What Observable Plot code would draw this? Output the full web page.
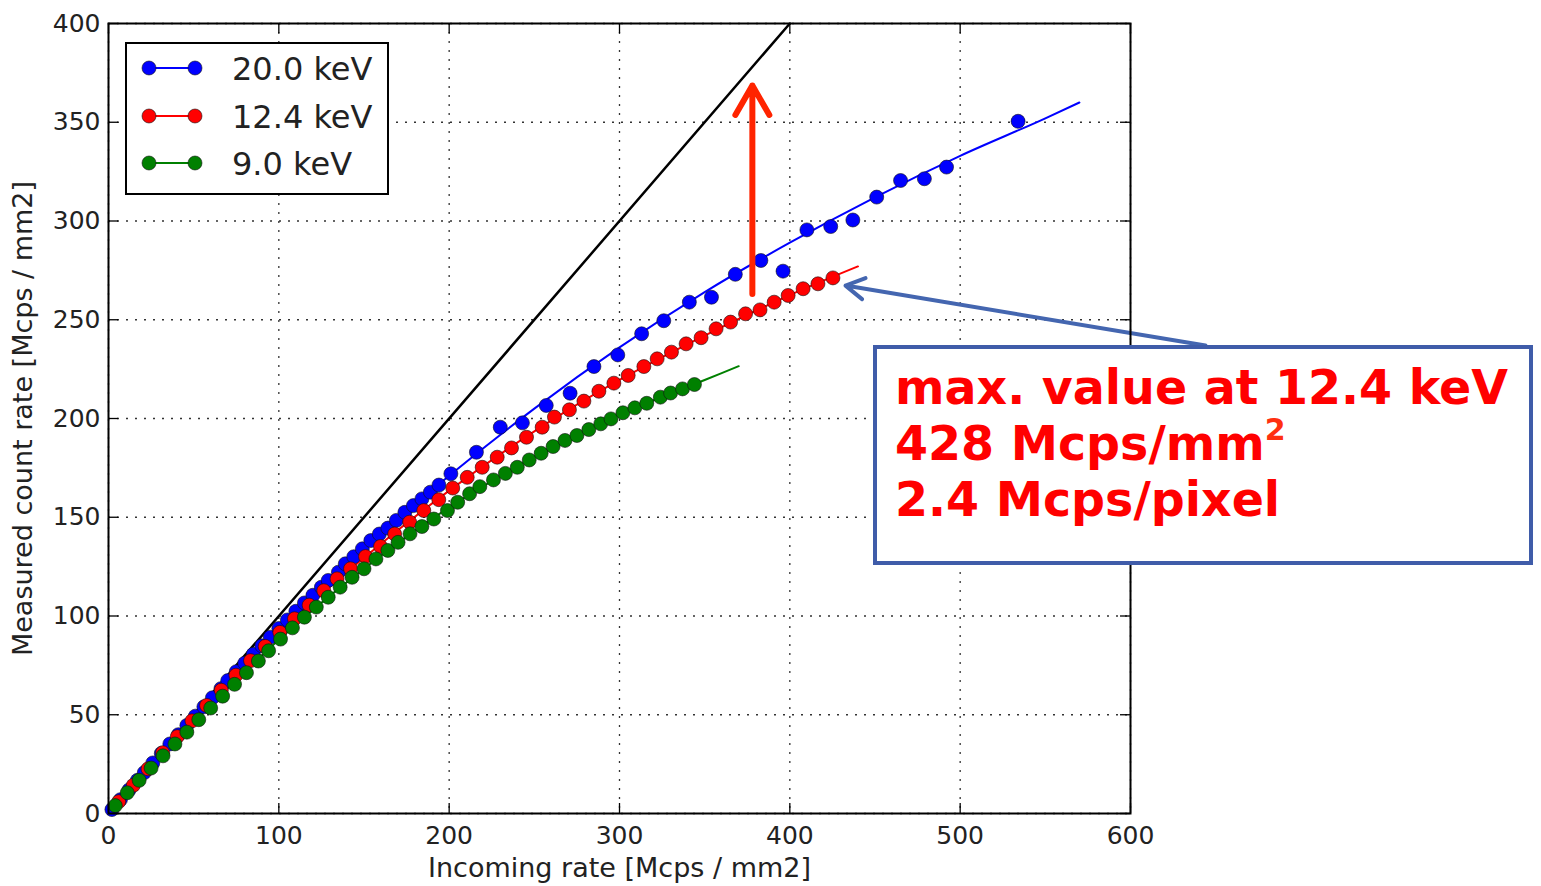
<!DOCTYPE html>
<html><head><meta charset="utf-8">
<script src="https://cdn.jsdelivr.net/npm/d3@7"></script>
<script src="https://cdn.jsdelivr.net/npm/@observablehq/plot@0.6"></script>
<style>
body{margin:0;background:#fff;}
#wrap{position:relative;width:1541px;height:886px;font-family:"DejaVu Sans",sans-serif;}
#legend{position:absolute;left:125px;top:42px;width:260px;height:149px;border:2px solid #000;background:#fff;}
#note{position:absolute;left:873px;top:345px;width:652px;height:212px;border:4px solid #3f5ca9;background:#fff;}
#note .txt{position:absolute;left:18px;top:11px;font-family:"DejaVu Sans",sans-serif;font-weight:bold;font-size:47.5px;line-height:56px;color:#ff0000;white-space:nowrap;}
#note sup{font-size:30px;color:#ff3010;position:relative;top:-3px;vertical-align:super;line-height:0;}
</style></head>
<body><div id="wrap"></div>
<script>
// ---- data ----
const energies = ["20.0 keV", "12.4 keV", "9.0 keV"];
const seriesColors = ["#0000ff", "#ff0000", "#008000"];

const blueIncoming = [2, 7, 12, 17, 21, 26, 31, 36, 41, 46, 51, 56, 61, 66, 70, 75, 80, 85, 90, 95,
  100, 105, 110, 115, 120, 125, 129, 135, 139, 144, 149, 154, 159, 164, 169, 174, 179, 184, 189, 194, 201,
  216, 230, 243, 257, 271, 285, 299, 313, 326, 341, 354, 368, 383, 396, 410, 424, 437, 451, 465, 479, 492, 534];
const blueMeasured = [2, 7, 11.9, 16.8, 20.7, 25.6, 30.4, 35.2, 39.9, 44.6, 49.3, 54, 58.6, 63.2, 67.3, 71.8, 76.1, 80.6, 84.9, 89.3,
  93.7, 98, 102.4, 106.6, 110.5, 114.6, 118, 122.2, 126.4, 130, 134, 138.2, 141.5, 144.5, 148.4, 152.5, 155.9, 159.3, 162.7, 166.3, 172,
  182.9, 195.6, 197.8, 206.6, 212.8, 226.3, 232.2, 242.9, 249.5, 258.9, 261.4, 273, 280, 274.6, 295.5, 297.2, 300.5, 312.1, 320.5, 321.4, 327.3, 350.5];

const redIncoming = [6, 14.6, 23.2, 31.8, 40.4, 49, 57.6, 66.2, 74.8, 83.4, 92, 100.6, 109.2, 117.8,
  126.4, 134.2, 142.1, 150.9, 159.7, 168, 176.8, 185.1, 193.9, 202.1, 210.6, 219.4, 228.2, 236.6, 245.4, 254.6,
  261.8, 270.6, 279.1, 287.9, 296.7, 305.1, 314.3, 322.1, 330.5, 339.1, 347.9, 356.7, 365.2, 374, 382.5, 390.8,
  399, 407.8, 416.5, 425.3];
const redMeasured = [6, 14.3, 22.6, 30.8, 38.9, 46.9, 54.7, 62.4, 70, 77.4, 84.6, 91.7, 98.6, 105.5,
  112.8, 118.8, 123.9, 130.1, 135.2, 141.5, 147.5, 153.4, 158.9, 164.8, 170.2, 175.3, 180.4, 185.1, 190.5, 195.6,
  200.7, 204.4, 208.8, 213.8, 217.9, 221.8, 226.3, 230.2, 233.6, 237.8, 240.9, 245.4, 248.8, 253, 255, 258.9,
  262.3, 265.7, 268.2, 271.2];

const greenIncoming = [4, 11, 18, 25, 32, 39, 46, 53, 60, 67, 74, 81, 88, 94, 101, 108, 115, 122, 129, 136,
  143, 150, 157, 164, 170, 177, 184, 191, 199, 205, 212, 218, 226, 233, 240, 247, 254, 261, 268, 275,
  282, 289, 295, 302, 309, 316, 324, 330, 337, 344];
const greenMeasured = [4, 10.5, 16.8, 23, 29.2, 35.2, 41.2, 47.5, 53.4, 59.4, 65.4, 71.3, 77.2, 82.4, 88.3, 94, 99.4, 104.5, 109.5, 114.6,
  119.6, 123.9, 128.9, 133.2, 137.3, 141.6, 145.3, 149.1, 153.4, 157.6, 161.9, 165.5, 168.9, 172.2, 175.3, 179, 182.4, 185.8, 188.9, 191.4,
  194.4, 197.3, 199.8, 202.9, 205.4, 207.7, 210.8, 212.9, 215, 217.2];

// fitted curves (as drawn)
const blueFitX = [0, 50, 100, 150, 200, 250, 300, 350, 400, 450, 500, 550, 570];
const blueFitY = [0, 48.5, 93.5, 134, 171, 205, 236, 264, 289, 312, 333, 352, 360];
const redFitX = [0, 50, 100, 150, 200, 250, 300, 350, 400, 440];
const redFitY = [0, 47.5, 91.3, 129.5, 163.5, 193.5, 219.5, 242, 262.5, 277];
const greenFitX = [0, 50, 100, 150, 200, 250, 300, 350, 370];
const greenFitY = [0, 46, 88, 124, 155, 180.5, 202, 219.5, 226.5];

// ideal response line
const idealX = [0, 400];
const idealY = [0, 400];

const xTicks = [0, 100, 200, 300, 400, 500, 600];
const yTicks = [0, 50, 100, 150, 200, 250, 300, 350, 400];

// annotation arrows (data coordinates)
const redArrow = {x1: 378, y1: 263, x2: 378, y2: 368.6};
const blueArrow = {x1: 644, y1: 237, x2: 432.7, y2: 267.3};

// ---- build tables ----
const measured = [];
const fits = [];
const seriesX = [blueIncoming, redIncoming, greenIncoming];
const seriesY = [blueMeasured, redMeasured, greenMeasured];
const fitXs = [blueFitX, redFitX, greenFitX];
const fitYs = [blueFitY, redFitY, greenFitY];
energies.forEach((e, k) => {
  seriesX[k].forEach((x, i) => measured.push({x, y: seriesY[k][i], s: e, c: seriesColors[k], k}));
  fitXs[k].forEach((x, i) => fits.push({x, y: fitYs[k][i], s: e, c: seriesColors[k]}));
});
const ideal = idealX.map((x, i) => ({x, y: idealY[i]}));

const W = 1541, H = 886, mL = 108, mR = 411, mT = 23, mB = 73;
const fw = W - mL - mR, fh = H - mT - mB;

const chart = Plot.plot({
  width: W, height: H,
  marginLeft: mL, marginRight: mR, marginTop: mT, marginBottom: mB,
  style: {fontFamily: "DejaVu Sans, sans-serif", background: "#fff", color: "#222"},
  x: {domain: [0, 600]},
  y: {domain: [0, 400]},
  color: {type: "identity"},
  marks: [
    Plot.gridX(xTicks, {stroke: "#333", strokeOpacity: 1, strokeWidth: 1.3, strokeDasharray: "2,7"}),
    Plot.gridY(yTicks, {stroke: "#333", strokeOpacity: 1, strokeWidth: 1.3, strokeDasharray: "2,7"}),
    Plot.line(ideal, {x: "x", y: "y", stroke: "black", strokeWidth: 2.5}),
    Plot.line(fits, {x: "x", y: "y", z: "s", stroke: "c", strokeWidth: 2, curve: "monotone-x"}),
    Plot.dot(measured.filter(d => d.k === 0), {x: "x", y: "y", r: 7, fill: "c", stroke: "#111", strokeWidth: 0.6}),
    Plot.dot(measured.filter(d => d.k === 1), {x: "x", y: "y", r: 7, fill: "c", stroke: "#111", strokeWidth: 0.6}),
    Plot.dot(measured.filter(d => d.k === 2), {x: "x", y: "y", r: 7, fill: "c", stroke: "#111", strokeWidth: 0.6}),
    Plot.arrow([redArrow], {x1: "x1", y1: "y1", x2: "x2", y2: "y2", stroke: "#ff2400", strokeWidth: 6, headLength: 8.5, headAngle: 60}),
    Plot.arrow([blueArrow], {x1: "x1", y1: "y1", x2: "x2", y2: "y2", stroke: "#4466b0", strokeWidth: 4, headLength: 8, headAngle: 60}),
    Plot.frame({stroke: "black", strokeWidth: 2}),
    Plot.ruleX(xTicks, {insetTop: fh - 10, stroke: "black", strokeWidth: 1.3}),
    Plot.ruleX(xTicks, {insetBottom: fh - 10, stroke: "black", strokeWidth: 1.3}),
    Plot.ruleY(yTicks, {insetRight: fw - 10, stroke: "black", strokeWidth: 1.3}),
    Plot.ruleY(yTicks, {insetLeft: fw - 10, stroke: "black", strokeWidth: 1.3}),
    Plot.axisX(xTicks, {tickSize: 0, tickPadding: 13, fontSize: 25, label: null, tickFormat: d => String(d)}),
    Plot.axisY(yTicks, {tickSize: 0, tickPadding: 8, fontSize: 25, label: null, tickFormat: d => String(d)}),
    Plot.text(["Incoming rate [Mcps / mm2]"], {frameAnchor: "bottom", lineAnchor: "middle", dy: 55, fontSize: 27, fill: "#222"}),
    Plot.text(["Measured count rate [Mcps / mm2]"], {frameAnchor: "left", textAnchor: "middle", lineAnchor: "middle", dx: -85, rotate: -90, fontSize: 27, fill: "#222"})
  ]
});

const wrap = document.getElementById("wrap");
wrap.appendChild(chart);

// legend
const leg = document.createElement("div");
leg.id = "legend";
const ns = "http://www.w3.org/2000/svg";
const lsvg = document.createElementNS(ns, "svg");
lsvg.setAttribute("width", 260); lsvg.setAttribute("height", 149);
const rowY = [24, 72, 119];
energies.forEach((e, k) => {
  const ln = document.createElementNS(ns, "line");
  ln.setAttribute("x1", 22); ln.setAttribute("x2", 68);
  ln.setAttribute("y1", rowY[k]); ln.setAttribute("y2", rowY[k]);
  ln.setAttribute("stroke", seriesColors[k]); ln.setAttribute("stroke-width", 2);
  lsvg.appendChild(ln);
  [22, 68].forEach(cx => {
    const c = document.createElementNS(ns, "circle");
    c.setAttribute("cx", cx); c.setAttribute("cy", rowY[k]); c.setAttribute("r", 7);
    c.setAttribute("fill", seriesColors[k]); c.setAttribute("stroke", "#111"); c.setAttribute("stroke-width", 0.6);
    lsvg.appendChild(c);
  });
  const t = document.createElementNS(ns, "text");
  t.setAttribute("x", 105); t.setAttribute("y", rowY[k]);
  t.setAttribute("dy", "0.36em");
  t.setAttribute("font-size", 32); t.setAttribute("fill", "#222");
  t.setAttribute("font-family", "DejaVu Sans, sans-serif");
  t.textContent = e;
  lsvg.appendChild(t);
});
leg.appendChild(lsvg);
wrap.appendChild(leg);

// annotation box
const note = document.createElement("div");
note.id = "note";
note.innerHTML = '<div class="txt">max. value at 12.4 keV<br>428 Mcps/mm<sup>2</sup><br>2.4 Mcps/pixel</div>';
wrap.appendChild(note);
</script></body></html>
